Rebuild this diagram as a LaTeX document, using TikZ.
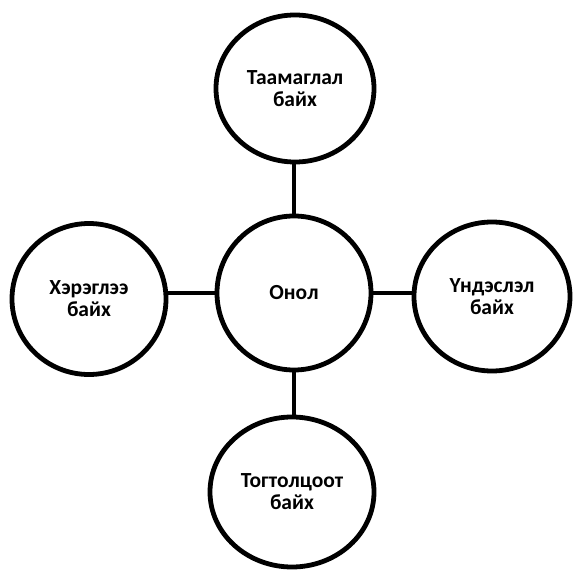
\documentclass[tikz,border=0pt]{standalone}
\usepackage{fontspec}
\setmainfont{Carlito}
\usetikzlibrary{shapes.geometric}
\begin{document}
\begin{tikzpicture}[x=1pt,y=-1pt,
  bubble/.style={ellipse, draw=black, line width=4.8pt, fill=white, inner sep=0pt,
    align=center, font=\bfseries\fontsize{21.5}{22}\selectfont},
  link/.style={draw=black, line width=4.8pt}]
\useasboundingbox (0,0) rectangle (574,570);
\node[bubble, minimum width=154pt, minimum height=154pt] (c) at (294,293) {Онол};
\node[bubble, minimum width=158pt, minimum height=147pt] (t) at (295,88.5) {Таамаглал\\байх};
\node[bubble, minimum width=154pt, minimum height=151pt] (l) at (89,299) {Хэрэглээ\\байх};
\node[bubble, minimum width=156pt, minimum height=149pt] (r) at (492,296.5) {Үндэслэл\\байх};
\node[bubble, minimum width=164pt, minimum height=150pt] (b) at (292,492) {Тогтолцоот\\байх};
\draw[link] (c.north) -- (c.north |- t.south);
\draw[link] (c.south) -- (c.south |- b.north);
\draw[link] (c.west) -- (c.west -| l.east);
\draw[link] (c.east) -- (c.east -| r.west);
\end{tikzpicture}
\end{document}
